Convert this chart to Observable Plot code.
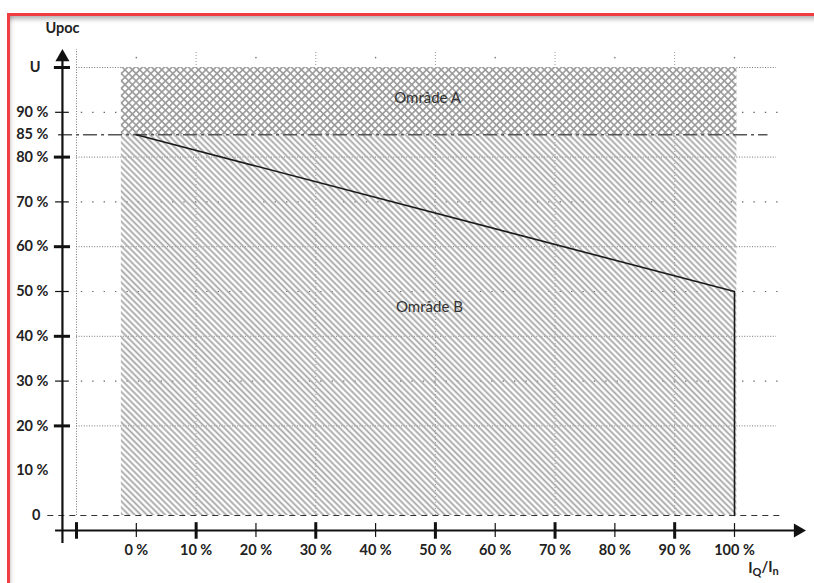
<!DOCTYPE html>
<html><head><meta charset="utf-8">
<script src="https://cdn.jsdelivr.net/npm/d3@7"></script>
<script src="https://cdn.jsdelivr.net/npm/@observablehq/plot@0.6"></script>
<style>
html,body{margin:0;padding:0;background:#fff;}
#wrap{position:relative;width:814px;height:583px;overflow:hidden;}
#frame{position:absolute;left:7px;top:13px;width:900px;height:700px;border-top:3px solid #ef3d41;border-left:3px solid #ef3d41;box-shadow: inset 0 6px 5px -3px rgba(0,0,0,0.30), inset 4px 0 4px -3px rgba(0,0,0,0.18);pointer-events:none;}
#chart{position:absolute;left:0;top:0;}
</style></head><body><div id="wrap"><div id="chart"></div><div id="frame"></div></div>
<script>
// ---- data ----
const yTickValues = [90, 85, 80, 70, 60, 50, 40, 30, 20, 10];
const yTickLabels = ["90 %", "85 %", "80 %", "70 %", "60 %", "50 %", "40 %", "30 %", "20 %", "10 %"];
const yEndValues = [100, 0];
const yEndLabels = ["U", "0"];
const xTickValues = [0, 10, 20, 30, 40, 50, 60, 70, 80, 90, 100];
const xTickLabels = ["0 %", "10 %", "20 %", "30 %", "40 %", "50 %", "60 %", "70 %", "80 %", "90 %", "100 %"];
const majorYTicks = [100, 80, 60, 40, 20];
const minorYTicks = [90, 70, 50, 30];
const majorXTicks = [-10, 10, 30, 50, 70, 90];
const minorXTicks = [0, 20, 40, 60, 80, 100];
const limitIq = [0, 100, 100];
const limitU = [85, 50, 0];
const areaNames = ["Område A", "Område B"];
const areaUlow = [85, 0];
const areaUhigh = [100, 85];
const areaIqLow = [-2.5, -2.5];
const areaIqHigh = [100.4, 100.4];
const areaLabelIq = [48.7, 49];
const areaLabelU = [93.1, 46.4];
const thresholdU = 85;
const yTitle = "Upoc";
const xTitle = "IQ/In";

// ---- derived tables ----
const limitCurve = limitIq.map((x, i) => ({x, y: limitU[i]}));
const areas = areaNames.map((name, i) => ({name, x1: areaIqLow[i], x2: areaIqHigh[i], y1: areaUlow[i], y2: areaUhigh[i], lx: areaLabelIq[i], ly: areaLabelU[i], fill: i === 0 ? "url(#hatchA)" : "url(#hatchB)"}));
const yTicks = yTickValues.map((v, i) => ({v, label: yTickLabels[i]}));
const yEnds = yEndValues.map((v, i) => ({v, label: yEndLabels[i]}));
const xTicks = xTickValues.map((v, i) => ({v, label: xTickLabels[i]}));

const AX = -12.35;   // y-axis position in x units
const AY = -3.35;    // x-axis position in y units
const font = "Lato, 'Open Sans', sans-serif";
const FS = 14.5;

const chart = Plot.plot({
  width: 814, height: 583,
  marginLeft: 76, marginRight: 80, marginTop: 67, marginBottom: 68,
  x: {domain: [-10, 100], axis: null},
  y: {domain: [0, 100], axis: null},
  style: {background: "transparent", overflow: "visible", fontFamily: font},
  marks: [
    // grid
    Plot.ruleY(majorYTicks, {y: d => d, x1: -10, x2: 107, stroke: "#777", strokeWidth: 1, strokeDasharray: "1,1.6"}),
    Plot.ruleY(minorYTicks, {y: d => d, x1: -9.2, x2: 108, stroke: "#666", strokeWidth: 1.2, strokeDasharray: "1.4,10"}),
    Plot.ruleX([-10], {x: d => d, y1: 0, y2: 104, stroke: "#777", strokeWidth: 1, strokeDasharray: "1,1.6"}),
    Plot.ruleX(majorXTicks.filter(d => d > 0), {x: d => d, y1: 0, y2: 103.6, stroke: "#999", strokeWidth: 1, strokeDasharray: "1,2"}),
    Plot.dot(minorXTicks, {x: d => d, y: 102.2, r: 0.8, fill: "#777", stroke: "none"}),
    // hatched areas
    Plot.rect(areas, {x1: "x1", x2: "x2", y1: "y1", y2: "y2", fill: "fill"}),
    // reference lines
    Plot.ruleY([thresholdU], {y: d => d, x1: -13, x2: 105.6, stroke: "#555", strokeWidth: 1.6, strokeDasharray: "14,4,3,4"}),
    Plot.ruleY([0], {y: d => d, x1: -14.8, x2: 107.7, stroke: "#333", strokeWidth: 1.2, strokeDasharray: "6,5"}),
    // limit curve
    Plot.line(limitCurve, {x: "x", y: "y", stroke: "#1a1a1a", strokeWidth: 1.6}),
    // axes
    Plot.ruleX([AX], {x: d => d, y1: -6.25, y2: 102.5, stroke: "#111", strokeWidth: 2.2}),
    Plot.ruleY([AY], {y: d => d, x1: -13.5, x2: 110.5, stroke: "#111", strokeWidth: 2.2}),
    Plot.dot([0], {x: AX, y: 102.3, symbol: "triangle", r: 5.2, fill: "#111", stroke: "none"}),
    Plot.dot([0], {x: 110.6, y: AY, symbol: "triangle", r: 5.2, rotate: 90, fill: "#111", stroke: "none"}),
    Plot.ruleY(majorYTicks, {y: d => d, x1: -13.7, x2: -11.0, stroke: "#111", strokeWidth: 3}),
    Plot.ruleY(minorYTicks, {y: d => d, x1: -13.5, x2: -11.2, stroke: "#111", strokeWidth: 1.2}),
    Plot.ruleX(majorXTicks, {x: d => d, y1: -1.6, y2: -5.3, stroke: "#111", strokeWidth: 3}),
    Plot.ruleX(minorXTicks, {x: d => d, y1: -1.8, y2: -4.9, stroke: "#111", strokeWidth: 1.2}),
    // labels
    Plot.text(yTicks, {x: AX, y: "v", text: "label", textAnchor: "end", dx: -14, fontSize: FS, fontWeight: 700, fill: "#222"}),
    Plot.text(yEnds, {x: AX, y: "v", text: "label", textAnchor: "end", dx: -22, fontSize: FS, fontWeight: 700, fill: "#222"}),
    Plot.text(xTicks, {x: "v", y: -7.8, text: "label", fontSize: FS, fontWeight: 700, fill: "#222"}),
    Plot.text([yTitle], {x: AX, y: 108.7, text: d => d, fontSize: FS, fontWeight: 700, fill: "#222"}),
    Plot.text([xTitle], {x: 102.3, y: -11.8, text: d => d, textAnchor: "start", fontSize: FS, fontWeight: 700, fill: "#222"}),
    Plot.text(areas, {x: "lx", y: "ly", text: "name", fontSize: 15, fill: "#333"})
  ]
});

// patterns
const svg = d3.select(chart);
const defs = svg.insert("defs", ":first-child");
const sA = 5.2;
const pA = defs.append("pattern").attr("id", "hatchA").attr("patternUnits", "userSpaceOnUse")
  .attr("width", sA).attr("height", sA).attr("patternTransform", "rotate(45)");
pA.append("rect").attr("width", sA).attr("height", sA).attr("fill", "#fff");
pA.append("line").attr("x1", 0).attr("y1", sA / 2).attr("x2", sA).attr("y2", sA / 2).attr("stroke", "#999").attr("stroke-width", 1.6);
pA.append("line").attr("x1", sA / 2).attr("y1", 0).attr("x2", sA / 2).attr("y2", sA).attr("stroke", "#999").attr("stroke-width", 1.6);
const sB = 4.3;
const pB = defs.append("pattern").attr("id", "hatchB").attr("patternUnits", "userSpaceOnUse")
  .attr("width", sB).attr("height", sB).attr("patternTransform", "rotate(45)");
pB.append("line").attr("x1", 0).attr("y1", sB / 2).attr("x2", sB).attr("y2", sB / 2).attr("stroke", "#a6a6a6").attr("stroke-width", 1.8);

// subscripts in x title
svg.selectAll("text").filter(function() { return this.textContent === xTitle; }).each(function() {
  const t = d3.select(this);
  t.text(null);
  t.append("tspan").text("I");
  t.append("tspan").attr("dy", "0.3em").attr("font-size", "11px").text("Q");
  t.append("tspan").attr("dy", "-0.3em").text("/I");
  t.append("tspan").attr("dy", "0.3em").attr("font-size", "11px").text("n");
});

document.getElementById("chart").appendChild(chart);
</script></body></html>
